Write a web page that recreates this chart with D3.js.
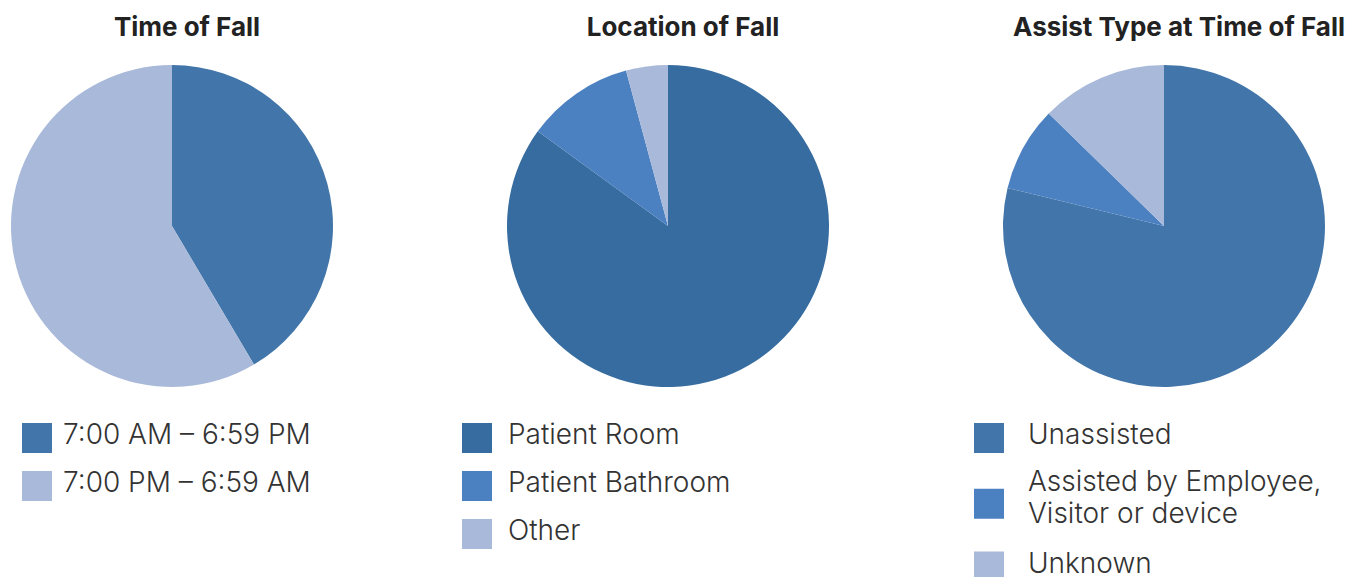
<!doctype html>
<html>
<head>
<meta charset="utf-8">
<script src="https://cdn.jsdelivr.net/npm/d3@7"></script>
<style>
  body { margin: 0; background: #fff; }
  svg { display: block; }
  .title { font-family: Inter, 'Noto Sans', sans-serif; font-weight: 700; font-size: 26px; fill: #222; }
  .legend text { font-family: Inter, 'Noto Sans', sans-serif; font-weight: 300; font-size: 28px; fill: #333; }
</style>
</head>
<body>
<svg id="chart"></svg>
<script>
const timeLabels = ["7:00 AM \u2013 6:59 PM", "7:00 PM \u2013 6:59 AM"]
const timeValues = [41.5, 58.5]
const timeColors = ["#4275a9", "#a9b9d9"]

const locationLabels = ["Patient Room", "Patient Bathroom", "Other"]
const locationValues = [85.0, 10.8, 4.2]
const locationColors = ["#366c9f", "#4b80c1", "#a9b9d9"]

const assistLabels = [["Unassisted"], ["Assisted by Employee,", "Visitor or device"], ["Unknown"]]
const assistValues = [78.8, 8.5, 12.7]
const assistColors = ["#4275a9", "#4b80c1", "#a9b9d9"]

const width = 1368, height = 577
const radius = 161

const svg = d3.select("#chart")
  .attr("width", width)
  .attr("height", height)

const charts = [
  { title: "Time of Fall", cx: 172, labels: timeLabels.map(d => [d]), values: timeValues, colors: timeColors, legendX: 22, textX: 63 },
  { title: "Location of Fall", cx: 668, labels: locationLabels.map(d => [d]), values: locationValues, colors: locationColors, legendX: 462, textX: 508 },
  { title: "Assist Type at Time of Fall", cx: 1164, labels: assistLabels, values: assistValues, colors: assistColors, legendX: 974, textX: 1028 }
]

const pie = d3.pie().sort(null).value(d => d)
const arc = d3.arc().innerRadius(0).outerRadius(radius)

charts.forEach(c => {
  svg.append("text")
    .attr("class", "title")
    .attr("x", c.cx + 15)
    .attr("y", 36)
    .attr("text-anchor", "middle")
    .text(c.title)

  svg.append("g")
    .attr("transform", "translate(" + c.cx + ",226)")
    .selectAll("path")
    .data(pie(c.values))
    .enter().append("path")
      .attr("d", arc)
      .attr("fill", (d, i) => c.colors[i])

  // legend rows, multi-line labels push the next row down
  const legend = svg.append("g").attr("class", "legend")
  let y = 423
  c.labels.forEach((lines, i) => {
    const blockH = 30 + (lines.length - 1) * 31.5
    legend.append("rect")
      .attr("x", c.legendX)
      .attr("y", lines.length > 1 ? y + (blockH - 30) / 2 + 2 : y)
      .attr("width", 30)
      .attr("height", 30)
      .attr("fill", c.colors[i])
    lines.forEach((line, j) => {
      legend.append("text")
        .attr("x", c.textX)
        .attr("y", y + 21 + j * 31.5 + (lines.length > 1 ? -1 : 0))
        .text(line)
    })
    y += blockH + 18 + (lines.length > 1 ? 1 : 0)
  })
})
</script>
</body>
</html>
